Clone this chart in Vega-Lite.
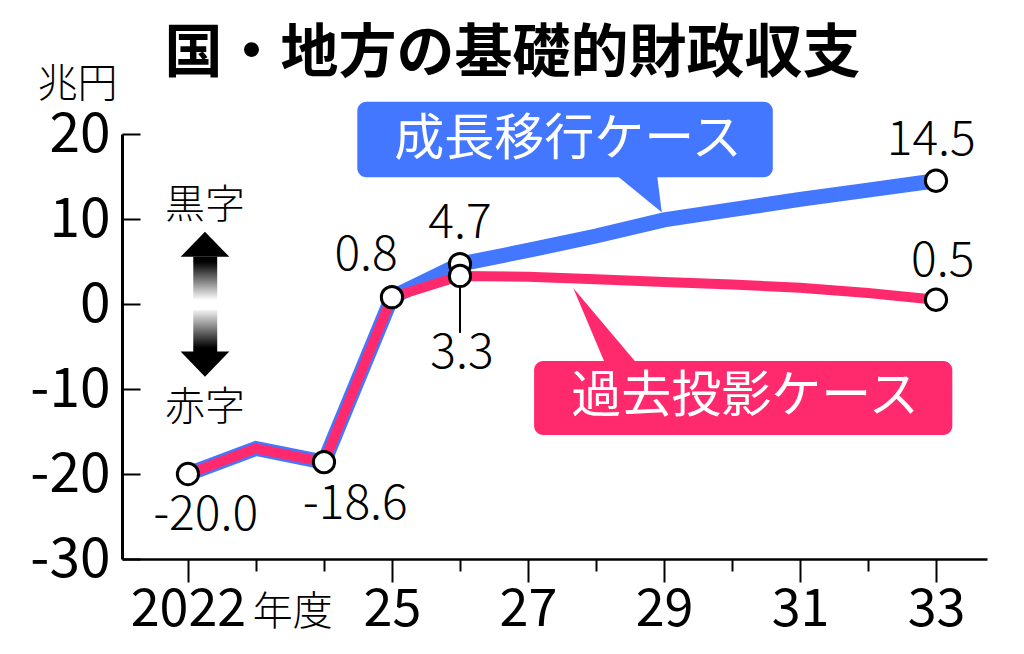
{
  "$schema": "https://vega.github.io/schema/vega-lite/v6.json",
  "width": 865,
  "height": 425,
  "autosize": "none",
  "padding": {"left": 122, "top": 134, "right": 37, "bottom": 95},
  "background": "white",
  "config": {"font": "Noto Sans CJK JP", "view": {"stroke": null}},
  "title": {
    "text": "国・地方の基礎的財政収支",
    "font": "Noto Sans CJK JP",
    "fontSize": 58,
    "fontWeight": "bold",
    "color": "black",
    "anchor": "middle",
    "dx": -42,
    "offset": -20
  },
  "datasets": {
    "growth": [
      {"year": 2022, "value": -20.0}, {"year": 2023, "value": -17.0}, {"year": 2024, "value": -18.6},
      {"year": 2025, "value": 0.8}, {"year": 2026, "value": 4.7}, {"year": 2027, "value": 6.3},
      {"year": 2028, "value": 8.0}, {"year": 2029, "value": 9.9}, {"year": 2030, "value": 11.1},
      {"year": 2031, "value": 12.3}, {"year": 2032, "value": 13.4}, {"year": 2033, "value": 14.5}
    ],
    "past": [
      {"year": 2022, "value": -20.0}, {"year": 2023, "value": -17.0}, {"year": 2024, "value": -18.6},
      {"year": 2025, "value": 0.8}, {"year": 2026, "value": 3.3}, {"year": 2027, "value": 3.2},
      {"year": 2028, "value": 2.9}, {"year": 2029, "value": 2.6}, {"year": 2030, "value": 2.3},
      {"year": 2031, "value": 1.9}, {"year": 2032, "value": 1.3}, {"year": 2033, "value": 0.5}
    ],
    "pts": [
      {"year": 2022, "value": -20.0}, {"year": 2024, "value": -18.6}, {"year": 2025, "value": 0.8},
      {"year": 2026, "value": 4.7}, {"year": 2026, "value": 3.3},
      {"year": 2033, "value": 14.5}, {"year": 2033, "value": 0.5}
    ],
    "labels": [
      {"year": 2022.26, "value": -24.9, "label": "-20.0"},
      {"year": 2024.46, "value": -23.6, "label": "-18.6"},
      {"year": 2024.62, "value": 5.6, "label": "0.8"},
      {"year": 2026.0, "value": 9.4, "label": "4.7"},
      {"year": 2026.03, "value": -5.9, "label": "3.3"},
      {"year": 2032.93, "value": 19.2, "label": "14.5"},
      {"year": 2033.1, "value": 4.9, "label": "0.5"}
    ]
  },
  "encoding": {
    "x": {
      "field": "year",
      "type": "quantitative",
      "scale": {"domain": [2021.03, 2033.75], "nice": false, "zero": false},
      "axis": {
        "title": null,
        "grid": false,
        "values": [2022, 2023, 2024, 2025, 2026, 2027, 2028, 2029, 2030, 2031, 2032, 2033],
        "labelExpr": "datum.value == 2022 ? '2022' : (indexof([2025, 2027, 2029, 2031, 2033], datum.value) >= 0 ? toString(datum.value - 2000) : '')",
        "tickSize": {"condition": {"test": "indexof([2022, 2025, 2027, 2029, 2031, 2033], datum.value) >= 0", "value": 23}, "value": 12},
        "tickColor": "black",
        "tickWidth": 2,
        "domainColor": "black",
        "domainWidth": 2.5,
        "labelFont": "Noto Sans CJK JP",
        "labelFontSize": 52,
        "labelFontWeight": 400,
        "labelColor": "black",
        "labelPadding": 2,
        "labelOverlap": false,
        "labelFlush": false
      }
    },
    "y": {
      "field": "value",
      "type": "quantitative",
      "scale": {"domain": [-30, 20], "nice": false, "zero": false},
      "axis": {
        "title": "兆円",
        "titleAngle": 0,
        "titleX": -45,
        "titleY": -50,
        "titleAlign": "center",
        "titleBaseline": "middle",
        "titleFont": "Noto Sans CJK JP",
        "titleFontSize": 40,
        "titleFontWeight": 300,
        "titleColor": "black",
        "grid": false,
        "values": [-30, -20, -10, 0, 10, 20],
        "labelExpr": "toString(datum.value)",
        "tickSize": -18,
        "tickColor": "black",
        "tickWidth": 2,
        "domainColor": "black",
        "domainWidth": 3,
        "labelFont": "Noto Sans CJK JP",
        "labelFontSize": 55,
        "labelFontWeight": 400,
        "labelColor": "black",
        "labelPadding": 30,
        "labelOverlap": false,
        "labelFlush": false
      }
    }
  },
  "layer": [
    {
      "data": {"values": [{}]},
      "mark": {"type": "rect", "color": "#e8e8e8"},
      "encoding": {
        "x": {"value": 0},
        "x2": {"value": "width"},
        "y": {"datum": 0},
        "y2": {"value": "height"}
      }
    },
    {
      "data": {"values": [{}]},
      "mark": {"type": "rule", "color": "black", "strokeWidth": 2},
      "encoding": {
        "x": {"value": 0},
        "x2": {"value": "width"},
        "y": {"datum": 0}
      }
    },
    {
      "data": {"values": [{"year": 2022.078, "year2": 2022.43, "value": 5.56, "value2": 0.47}]},
      "mark": {"type": "rect", "fill": {"gradient": "linear", "x1": 0, "y1": 0, "x2": 0, "y2": 1, "stops": [{"offset": 0, "color": "#000000"}, {"offset": 0.12, "color": "#000000"}, {"offset": 1, "color": "#ffffff"}]}},
      "encoding": {"x2": {"field": "year2"}, "y2": {"field": "value2"}}
    },
    {
      "data": {"values": [{"year": 2022.078, "year2": 2022.43, "value": -0.7, "value2": -5.76}]},
      "mark": {"type": "rect", "fill": {"gradient": "linear", "x1": 0, "y1": 0, "x2": 0, "y2": 1, "stops": [{"offset": 0, "color": "#f4f4f4"}, {"offset": 0.88, "color": "#000000"}, {"offset": 1, "color": "#000000"}]}},
      "encoding": {"x2": {"field": "year2"}, "y2": {"field": "value2"}}
    },
    {
      "data": {"values": [{"year": 2022.25, "value": 8.5}]},
      "mark": {"type": "point", "shape": "M0,0L1,1.03L-1,1.03Z", "filled": true, "color": "black", "opacity": 1, "size": 2372}
    },
    {
      "data": {"values": [{"year": 2022.25, "value": -8.55}]},
      "mark": {"type": "point", "shape": "M0,0L1,-1.03L-1,-1.03Z", "filled": true, "color": "black", "opacity": 1, "size": 2372}
    },
    {
      "data": {"values": [{"year": 2022.25, "value": 11.5, "label": "黒字"}, {"year": 2022.25, "value": -12.2, "label": "赤字"}]},
      "mark": {"type": "text", "font": "Noto Sans CJK JP", "fontSize": 40, "fontWeight": 300, "color": "black", "align": "center", "baseline": "middle"},
      "encoding": {"text": {"field": "label"}}
    },
    {
      "data": {"values": [{"year": 2024.49, "year2": 2030.6, "value": 23.8, "value2": 14.9}]},
      "mark": {"type": "rect", "color": "#4477ff", "cornerRadius": 9},
      "encoding": {"x2": {"field": "year2"}, "y2": {"field": "value2"}}
    },
    {
      "data": {"values": [{"year": 2028.57, "value": 14.9}]},
      "mark": {"type": "point", "shape": "M-0.44,-0.1L0.44,-0.1L0.54,0.7Z", "filled": true, "color": "#4477ff", "opacity": 1, "size": 10000}
    },
    {
      "data": {"values": [{"year": 2027.09, "year2": 2033.24, "value": -6.7, "value2": -15.4}]},
      "mark": {"type": "rect", "color": "#ff2a6e", "cornerRadius": 9},
      "encoding": {"x2": {"field": "year2"}, "y2": {"field": "value2"}}
    },
    {
      "data": {"values": [{"year": 2028.43, "value": -6.7}]},
      "mark": {"type": "point", "shape": "M-0.17,0.1L0.18,0.1L-0.52,-0.73Z", "filled": true, "color": "#ff2a6e", "opacity": 1, "size": 40000}
    },
    {
      "data": {"values": [{"year": 2027.59, "value": 19.3, "label": "成長移行ケース"}, {"year": 2030.19, "value": -10.9, "label": "過去投影ケース"}]},
      "mark": {"type": "text", "font": "Noto Sans CJK JP", "fontSize": 50, "color": "white", "align": "center", "baseline": "middle"},
      "encoding": {"text": {"field": "label"}}
    },
    {
      "data": {"name": "growth"},
      "mark": {"type": "line", "color": "#4477ff", "strokeWidth": 15, "strokeJoin": "miter"}
    },
    {
      "data": {"name": "past"},
      "mark": {"type": "line", "color": "#ff2a6e", "strokeWidth": 10, "strokeJoin": "miter"}
    },
    {
      "data": {"values": [{"year": 2026, "value": 3.3, "value2": -3.4}]},
      "mark": {"type": "rule", "color": "black", "strokeWidth": 2},
      "encoding": {"y2": {"field": "value2"}}
    },
    {
      "data": {"name": "pts"},
      "mark": {"type": "point", "shape": "circle", "filled": true, "fill": "white", "stroke": "black", "strokeWidth": 3, "opacity": 1, "size": 452}
    },
    {
      "data": {"name": "labels"},
      "mark": {"type": "text", "font": "Noto Sans CJK JP", "fontSize": 48, "fontWeight": 300, "color": "black", "align": "center", "baseline": "middle"},
      "encoding": {"text": {"field": "label"}}
    },
    {
      "data": {"values": [{"year": 2023.54, "value": -36.4, "label": "年度"}]},
      "mark": {"type": "text", "font": "Noto Sans CJK JP", "fontSize": 40, "fontWeight": 300, "color": "black", "align": "center", "baseline": "middle"},
      "encoding": {"text": {"field": "label"}}
    }
  ]
}
